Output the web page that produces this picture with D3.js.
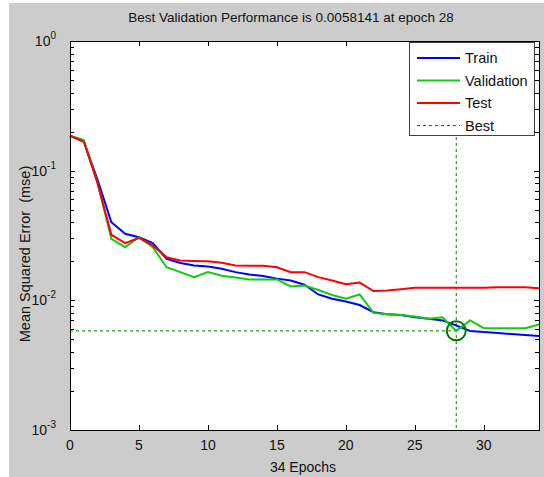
<!DOCTYPE html>
<html>
<head>
<meta charset="utf-8">
<script src="https://cdn.jsdelivr.net/npm/d3@7"></script>
<style>
  body { margin: 0; background: #fff; }
  text { font-family: "Liberation Sans", Arial, sans-serif; fill: #111; }
</style>
</head>
<body>
<div id="wrapper"></div>
<script>
// epochs and performance values
const epochs = d3.range(0, 35)
const trainPerf = [0.186, 0.168, 0.085, 0.040, 0.0326, 0.0307, 0.0276, 0.0209, 0.0194, 0.0186,
  0.0182, 0.0175, 0.0165, 0.0158, 0.0154, 0.0147, 0.0142, 0.0132, 0.0111, 0.0103,
  0.0098, 0.0092, 0.0081, 0.0078, 0.0077, 0.0074, 0.0072, 0.0070, 0.0064, 0.0058,
  0.0057, 0.0056, 0.0055, 0.0054, 0.0053]
const valPerf = [0.186, 0.172, 0.080, 0.0298, 0.0257, 0.0307, 0.0257, 0.0180, 0.0165, 0.0151,
  0.0165, 0.0155, 0.0150, 0.0145, 0.0145, 0.0145, 0.0128, 0.0130, 0.0120, 0.0110,
  0.0103, 0.0111, 0.0080, 0.0078, 0.0077, 0.0075, 0.0072, 0.0074, 0.0058141, 0.0070,
  0.0061, 0.0061, 0.0061, 0.0061, 0.0065]
const testPerf = [0.186, 0.168, 0.080, 0.032, 0.0276, 0.0303, 0.0265, 0.0215, 0.0203, 0.0201,
  0.0200, 0.0195, 0.0186, 0.0185, 0.0185, 0.0180, 0.0165, 0.0165, 0.0151, 0.0142,
  0.0133, 0.0137, 0.0118, 0.0119, 0.0122, 0.0125, 0.0125, 0.0125, 0.0125, 0.0125,
  0.0125, 0.0126, 0.0126, 0.0126, 0.0124]
const bestEpoch = 28
const bestPerf = 0.0058141
const xTicks = [0, 5, 10, 15, 20, 25, 30]
const yExponents = [0, -1, -2, -3]
const seriesNames = ["Train", "Validation", "Test", "Best"]

const colors = { Train: "#0000ff", Validation: "#11cc11", Test: "#ff0000", Best: "#008000" }

let dimensions = {
  width: 544,
  height: 477,
  margin: { top: 41, right: 5, bottom: 47, left: 70 },
}
dimensions.boundedWidth = dimensions.width - dimensions.margin.left - dimensions.margin.right
dimensions.boundedHeight = dimensions.height - dimensions.margin.top - dimensions.margin.bottom

const wrapper = d3.select("#wrapper").append("svg")
  .attr("width", dimensions.width)
  .attr("height", dimensions.height)

// grey figure background
wrapper.append("rect")
  .attr("x", 9).attr("y", 3)
  .attr("width", dimensions.width - 9).attr("height", dimensions.height - 3)
  .attr("fill", "#cccccc")

const bounds = wrapper.append("g")
  .attr("transform", `translate(${dimensions.margin.left},${dimensions.margin.top})`)

const xScale = d3.scaleLinear().domain([0, 34]).range([0, dimensions.boundedWidth])
const yScale = d3.scaleLog().domain([1e-3, 1]).range([dimensions.boundedHeight, 0])

bounds.append("rect")
  .attr("width", dimensions.boundedWidth).attr("height", dimensions.boundedHeight)
  .attr("fill", "#fff")

// ticks (inward, all four sides)
const W = dimensions.boundedWidth, H = dimensions.boundedHeight
const tickG = bounds.append("g").attr("stroke", "#000").attr("stroke-width", 1)
xTicks.forEach(t => {
  const x = Math.round(xScale(t)) + 0.5
  tickG.append("line").attr("x1", x).attr("x2", x).attr("y1", H).attr("y2", H - 5)
  tickG.append("line").attr("x1", x).attr("x2", x).attr("y1", 0).attr("y2", 5)
})
yExponents.forEach(e => {
  const y = Math.round(yScale(Math.pow(10, e))) + 0.5
  tickG.append("line").attr("x1", 0).attr("x2", 5).attr("y1", y).attr("y2", y)
  tickG.append("line").attr("x1", W).attr("x2", W - 5).attr("y1", y).attr("y2", y)
  if (e > -3) {
    d3.range(2, 10).forEach(m => {
      const v = m * Math.pow(10, e - 1)
      const ym = Math.round(yScale(v)) + 0.5
      tickG.append("line").attr("x1", 0).attr("x2", 4).attr("y1", ym).attr("y2", ym)
      tickG.append("line").attr("x1", W).attr("x2", W - 4).attr("y1", ym).attr("y2", ym)
    })
  }
})

// best lines
bounds.append("line")
  .attr("x1", 0).attr("x2", xScale(bestEpoch))
  .attr("y1", yScale(bestPerf)).attr("y2", yScale(bestPerf))
  .attr("stroke", colors.Best).attr("stroke-dasharray", "3,3")
bounds.append("line")
  .attr("x1", xScale(bestEpoch)).attr("x2", xScale(bestEpoch))
  .attr("y1", 0).attr("y2", H)
  .attr("stroke", colors.Best).attr("stroke-dasharray", "3,3")

// series lines
const lineGen = d3.line().x((d, i) => xScale(epochs[i])).y(d => yScale(d))
const series = [["Train", trainPerf], ["Validation", valPerf], ["Test", testPerf]]
series.forEach(([name, vals]) => {
  bounds.append("path")
    .datum(vals)
    .attr("d", lineGen)
    .attr("fill", "none")
    .attr("stroke", colors[name])
    .attr("stroke-width", 2)
})

// best marker
bounds.append("circle")
  .attr("cx", xScale(bestEpoch)).attr("cy", yScale(bestPerf))
  .attr("r", 9.5)
  .attr("fill", "none").attr("stroke", "#007700").attr("stroke-width", 2)

// axes box
bounds.append("rect")
  .attr("x", 0.5).attr("y", 0.5)
  .attr("width", W).attr("height", H)
  .attr("fill", "none").attr("stroke", "#000")

// tick labels
xTicks.forEach(t => {
  bounds.append("text")
    .attr("x", xScale(t)).attr("y", H + 20)
    .attr("text-anchor", "middle").style("font-size", "14px")
    .text(t)
})
yExponents.forEach(e => {
  const lab = bounds.append("text")
    .attr("x", -14).attr("y", yScale(Math.pow(10, e)) + 5)
    .attr("text-anchor", "end").style("font-size", "14px")
  lab.append("tspan").text("10")
  lab.append("tspan").attr("dy", -7).style("font-size", "10px").text(e)
})

// title and axis labels
wrapper.append("text")
  .attr("x", 291).attr("y", 22)
  .attr("text-anchor", "middle").style("font-size", "13.5px")
  .text(`Best Validation Performance is ${bestPerf} at epoch ${bestEpoch}`)
wrapper.append("text")
  .attr("x", 303).attr("y", 472)
  .attr("text-anchor", "middle").style("font-size", "14px")
  .text(`${epochs.length - 1} Epochs`)
wrapper.append("text")
  .attr("transform", "translate(30,254) rotate(-90)")
  .attr("text-anchor", "middle").style("font-size", "14.5px")
  .attr("xml:space", "preserve")
  .text("Mean Squared Error  (mse)")

// legend
const legend = wrapper.append("g").attr("transform", "translate(409,42)")
legend.append("rect")
  .attr("x", 0.5).attr("y", 0.5).attr("width", 125).attr("height", 93)
  .attr("fill", "#fff").attr("stroke", "#404040")
seriesNames.forEach((name, i) => {
  const y = 16 + i * 22.5
  legend.append("line")
    .attr("x1", 8).attr("x2", 51).attr("y1", y).attr("y2", y)
    .attr("stroke", colors[name])
    .attr("stroke-width", name === "Best" ? 1 : 2)
    .attr("stroke-dasharray", name === "Best" ? "3,3" : null)
  legend.append("text")
    .attr("x", 56).attr("y", y + 5)
    .style("font-size", "14.5px")
    .text(name)
})
</script>
</body>
</html>
